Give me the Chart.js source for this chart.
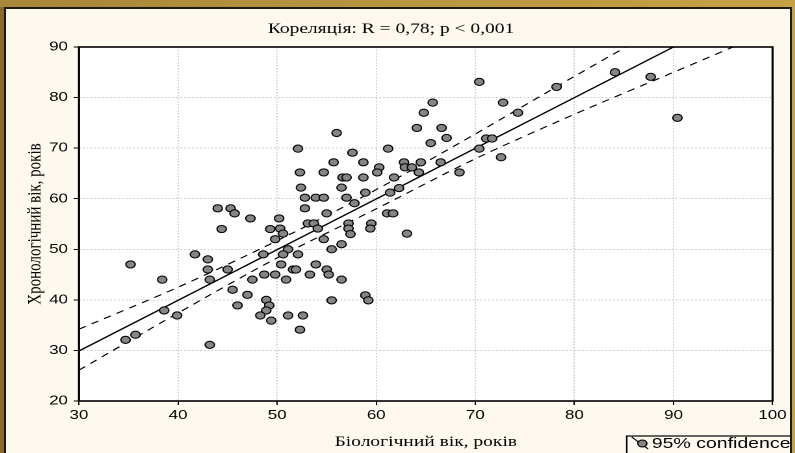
<!DOCTYPE html>
<html>
<head>
<meta charset="utf-8">
<script src="https://cdn.jsdelivr.net/npm/chart.js@4.4.0/dist/chart.umd.min.js"></script>
<style>
  html, body { margin: 0; padding: 0; width: 795px; height: 453px; overflow: hidden; }
  body { position: relative; background: linear-gradient(to right, #a9873a, #c6a246); }
  #leftStrip { position: absolute; left: 0; top: 7px; width: 4px; height: 446px; background: #8a6a31; }
  #frame { position: absolute; left: 4px; top: 7px; width: 784px; height: 460px;
           border: 2px solid #1c1a14; border-bottom: none; background: #fdf9ef; overflow: hidden; }
  #wrap { position: absolute; left: 0; top: 0; transform: scaleX(1.3); transform-origin: 0 0; }
</style>
</head>
<body>
<div id="leftStrip"></div>
<div id="frame">
  <div id="wrap"><canvas id="myChart" width="603" height="444"></canvas></div>
</div>
<script>
// Scatter values (biological age vs chronological age)
const bioAge = [
    44.0, 45.3, 45.7, 47.3, 44.4, 49.3, 50.2, 49.8, 35.2, 41.7,
    43.0, 43.0, 45.0, 48.6, 38.4, 43.2, 47.5, 48.7, 49.8, 45.5,
    47.0, 46.0, 48.9, 49.2, 48.9, 48.3, 49.4, 38.6, 39.9, 35.7,
    34.7, 43.2, 52.4, 52.8, 53.9, 54.7, 52.8, 56.5, 57.0, 57.8,
    58.9, 55.0, 53.1, 53.7, 54.1, 50.3, 50.6, 57.2, 57.2, 57.4,
    59.5, 59.4, 54.7, 55.5, 56.5, 51.1, 50.6, 52.1, 50.4, 51.6,
    51.9, 53.9, 55.0, 55.2, 53.3, 56.5, 50.9, 51.1, 52.6, 52.3,
    55.5, 58.9, 59.2, 61.1, 65.7, 64.8, 64.1, 66.6, 67.1, 65.5,
    56.0, 52.1, 57.6, 61.2, 55.7, 58.7, 62.8, 64.5, 66.5, 60.3,
    62.9, 63.6, 64.3, 60.1, 52.3, 54.7, 68.4, 56.6, 57.0, 58.7,
    61.8, 62.3, 61.4, 61.7, 63.1, 70.4, 78.2, 84.1, 87.7, 90.4,
    72.8, 74.3, 71.1, 71.7, 70.4, 72.6
];
const chronoAge = [
    58.1, 58.1, 57.1, 56.1, 54.0, 54.0, 56.1, 52.0, 47.0, 49.0,
    48.0, 46.0, 46.0, 49.0, 44.0, 44.0, 44.0, 45.0, 45.0, 42.0,
    41.0, 38.9, 40.0, 38.9, 37.9, 36.9, 35.9, 37.9, 36.9, 33.1,
    32.1, 31.1, 62.2, 60.2, 60.2, 60.2, 58.1, 62.2, 60.2, 59.1,
    61.2, 57.1, 55.1, 55.1, 54.1, 54.1, 53.1, 55.1, 54.1, 53.0,
    55.1, 54.1, 52.0, 50.0, 51.0, 50.0, 49.0, 49.0, 47.0, 46.0,
    46.0, 47.0, 46.0, 45.0, 45.0, 44.0, 44.0, 36.9, 36.9, 34.1,
    39.9, 40.9, 39.9, 57.1, 79.0, 77.0, 74.0, 74.0, 72.0, 71.0,
    73.0, 69.9, 69.1, 69.9, 67.2, 67.2, 67.2, 67.2, 67.2, 66.2,
    66.2, 66.2, 65.2, 65.2, 65.2, 65.2, 65.2, 64.2, 64.2, 64.2,
    64.2, 62.1, 61.2, 57.1, 53.1, 83.1, 82.1, 85.0, 84.1, 76.0,
    79.0, 77.0, 71.9, 71.9, 69.9, 68.2
];

// Regression line and 95% confidence band
const fitX = [30, 90];
const fitY = [29.9, 90];
const upperX = [30, 40, 50, 60, 70, 80, 85.2];
const upperY = [34.2, 42.5, 51.7, 61.8, 72.8, 84.2, 90];
const lowerX = [30, 40, 50, 60, 70, 80, 90, 96];
const lowerY = [26.1, 37.4, 48.3, 58.0, 67.9, 76.7, 85.0, 90];

const xTicks = [30, 40, 50, 60, 70, 80, 90, 100];
const yTicks = [20, 30, 40, 50, 60, 70, 80, 90];

const titleText = 'Кореляція: R = 0,78; p < 0,001';
const xTitle = 'Біологічний вік, років';
const yTitle = 'Хронологічний вік, років';
const legendText = '95% confidence';

function toPoints(xs, ys) {
    return xs.map((x, i) => ({ x: x, y: ys[i] }));
}

// White plot area and black frame round it
const plotFrame = {
    id: 'plotFrame',
    beforeDatasetsDraw(chart) {
        const a = chart.chartArea;
        const ctx = chart.ctx;
        ctx.save();
        ctx.fillStyle = '#ffffff';
        ctx.fillRect(a.left, a.top, a.right - a.left, a.bottom - a.top);
        ctx.restore();
        // redraw grid on top of the white fill
        chart.scales.x.drawGrid(a);
        chart.scales.y.drawGrid(a);
    },
    afterDraw(chart) {
        const a = chart.chartArea;
        const ctx = chart.ctx;
        ctx.save();
        ctx.strokeStyle = '#000';
        ctx.lineWidth = 1.6;
        ctx.strokeRect(a.left, a.top, a.right - a.left, a.bottom - a.top);
        ctx.restore();
    }
};

// Statistica style legend box, bottom right (cut by the picture edge)
const boxLegend = {
    id: 'boxLegend',
    afterDraw(chart) {
        const ctx = chart.ctx;
        ctx.save();
        ctx.fillStyle = '#fdf9ef';
        ctx.strokeStyle = '#000';
        ctx.lineWidth = 1.2;
        ctx.fillRect(477.5, 427, 200, 30);
        ctx.strokeRect(477.5, 427, 200, 30);
        ctx.beginPath();
        ctx.moveTo(481.3, 428);
        ctx.lineTo(494, 440);
        ctx.lineWidth = 1;
        ctx.stroke();
        ctx.beginPath();
        ctx.arc(489.5, 434.5, 3.5, 0, Math.PI * 2);
        ctx.fillStyle = '#858585';
        ctx.fill();
        ctx.stroke();
        ctx.fillStyle = '#000';
        ctx.font = '15px "Liberation Sans", Arial, sans-serif';
        ctx.textBaseline = 'middle';
        ctx.fillText(legendText, 496.7, 435);
        ctx.restore();
    }
};

function renderChart() {
    const ctx = document.getElementById('myChart').getContext('2d');
    Chart.defaults.color = '#000';

    const gridStyle = {
        color: '#cfcfcf',
        lineWidth: 1,
        tickColor: '#000',
        tickLength: 4,
        tickBorderDash: [],
        drawOnChartArea: true
    };
    const borderStyle = { display: false, dash: [1.5, 1.5] };

    new Chart(ctx, {
        type: 'scatter',
        data: {
            datasets: [{
                label: 'data',
                data: toPoints(bioAge, chronoAge),
                pointRadius: 3.6,
                pointBackgroundColor: '#858585',
                pointBorderColor: '#000',
                pointBorderWidth: 1,
                showLine: false
            }, {
                label: 'fit',
                data: toPoints(fitX, fitY),
                showLine: true,
                borderColor: '#000',
                borderWidth: 1.3,
                pointRadius: 0
            }, {
                label: 'upper',
                data: toPoints(upperX, upperY),
                showLine: true,
                borderColor: '#000',
                borderWidth: 1.1,
                borderDash: [6, 5],
                tension: 0.3,
                pointRadius: 0
            }, {
                label: 'lower',
                data: toPoints(lowerX, lowerY),
                showLine: true,
                borderColor: '#000',
                borderWidth: 1.1,
                borderDash: [6, 5],
                tension: 0.3,
                pointRadius: 0
            }]
        },
        options: {
            responsive: false,
            animation: false,
            devicePixelRatio: 2,
            layout: { padding: { left: 0, right: 10.7, top: 0, bottom: 0 } },
            scales: {
                x: {
                    type: 'linear',
                    min: 30,
                    max: 100,
                    afterFit(scale) { scale.height = 52; },
                    afterBuildTicks(scale) { scale.ticks = xTicks.map(v => ({ value: v })); },
                    grid: gridStyle,
                    border: borderStyle,
                    ticks: {
                        padding: 2.5,
                        font: { family: '"Liberation Sans", Arial, sans-serif', size: 13 }
                    },
                    title: {
                        display: true,
                        text: xTitle,
                        padding: { top: 0, bottom: 2 },
                        font: { family: '"Liberation Serif", "Times New Roman", serif', size: 15 }
                    }
                },
                y: {
                    type: 'linear',
                    min: 20,
                    max: 90,
                    afterFit(scale) { scale.width = 56.15; },
                    afterBuildTicks(scale) { scale.ticks = yTicks.map(v => ({ value: v })); },
                    grid: gridStyle,
                    border: borderStyle,
                    ticks: {
                        padding: 4.5,
                        font: { family: '"Liberation Sans", Arial, sans-serif', size: 13 }
                    },
                    title: {
                        display: true,
                        text: yTitle,
                        padding: { top: 13.5, bottom: 0 },
                        font: { family: '"Liberation Serif", "Times New Roman", serif', size: 15 }
                    }
                }
            },
            plugins: {
                title: {
                    display: true,
                    text: titleText,
                    padding: { top: 11, bottom: 9 },
                    font: { family: '"Liberation Serif", "Times New Roman", serif', size: 15, weight: 'normal' }
                },
                legend: { display: false },
                tooltip: { enabled: false }
            }
        },
        plugins: [plotFrame, boxLegend]
    });
}

window.onload = renderChart;
</script>
</body>
</html>
